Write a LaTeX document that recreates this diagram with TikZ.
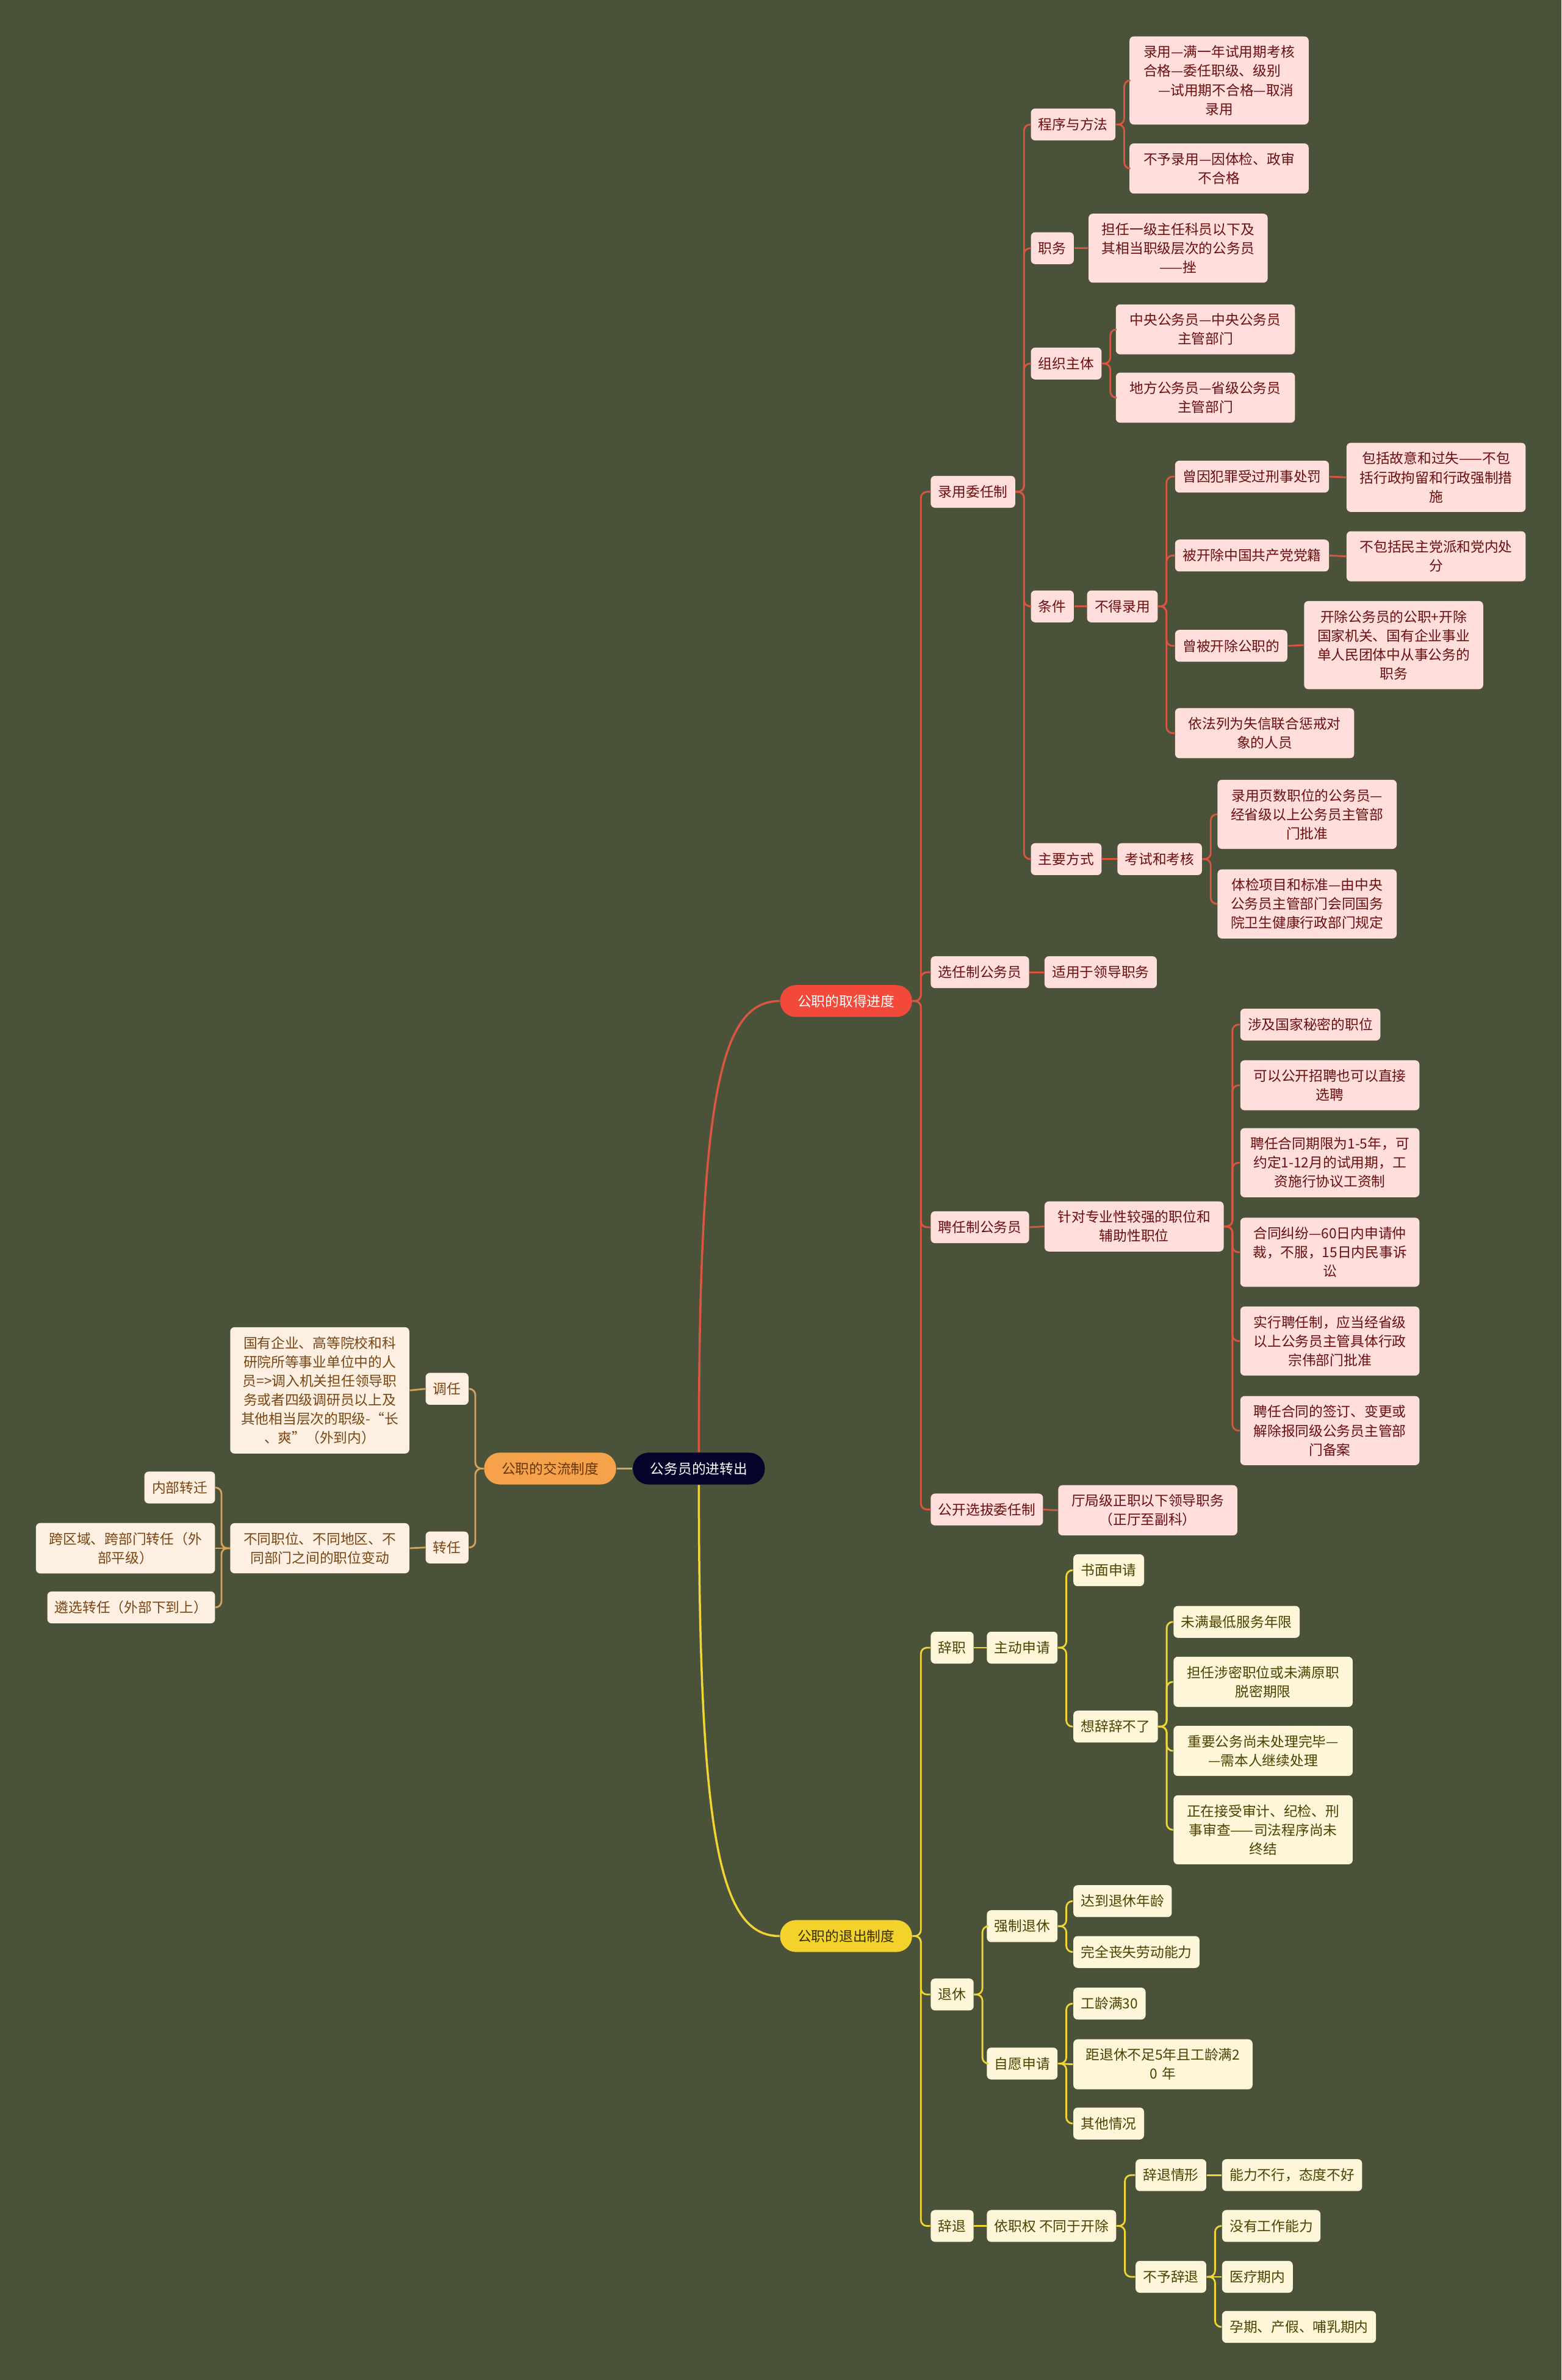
\documentclass[tikz,border=0pt]{standalone}
\usepackage{fontspec}
\usepackage{xcolor}
\setmainfont{Noto Sans CJK SC}
\definecolor{Board}{HTML}{4A5339}
\definecolor{Night}{HTML}{04042B}
\definecolor{RedMain}{HTML}{F2493A}
\definecolor{RedLine}{HTML}{DC5541}
\definecolor{RedFill}{HTML}{FFDEDC}
\definecolor{RedInk}{HTML}{6A0E0E}
\definecolor{OrgMain}{HTML}{F5A24B}
\definecolor{OrgLine}{HTML}{D9A457}
\definecolor{OrgFill}{HTML}{FDF0E2}
\definecolor{OrgInk}{HTML}{7A4512}
\definecolor{YelMain}{HTML}{F3D22B}
\definecolor{YelLine}{HTML}{F0D534}
\definecolor{YelFill}{HTML}{FDF6D8}
\definecolor{YelInk}{HTML}{4D4100}

\begin{document}
\begin{tikzpicture}[x=0.025cm,y=-0.025cm,
  txt/.style={font=\fontsize{6.5}{8.9}\selectfont},
  box/.style={txt,rounded corners=2pt,inner xsep=0.125cm,inner ysep=0.15cm,minimum height=0.525cm,align=center},
  wide/.style={text width=2.7cm},
  rbox/.style={box,fill=RedFill,text=RedInk},
  obox/.style={box,fill=OrgFill,text=OrgInk},
  ybox/.style={box,fill=YelFill,text=YelInk},
  pill/.style={txt,rounded corners=0.26cm,minimum width=2.175cm,minimum height=0.525cm,inner sep=0pt},
  rline/.style={RedLine,line width=0.8pt,rounded corners=0.1cm},
  oline/.style={OrgLine,line width=0.8pt,rounded corners=0.1cm},
  yline/.style={YelLine,line width=0.8pt,rounded corners=0.1cm},
  elbow/.style={to path={-- ++(5.5,0) |- (\tikztotarget)}},
  elbowl/.style={to path={-- ++(-5.5,0) |- (\tikztotarget)}}]
\useasboundingbox (0,0) rectangle (1029,1568);
\fill[Board] (0,0) rectangle (1029,1568);

% centre and first level
\node[pill,fill=Night,text=white] (root) at (460.5,967.5) {公务员的进转出};
\node[pill,fill=RedMain,text=white] (qude) at (557.5,659.5) {公职的取得进度};
\node[pill,fill=OrgMain,text=OrgInk!80!black] (jiaoliu) at (362.5,967.5) {公职的交流制度};
\node[pill,fill=YelMain,text=YelInk!70!black] (tuichu) at (557.5,1275.5) {公职的退出制度};

\draw[rline,line width=1pt] (root.north) .. controls (460.5,720) and (475,659.5) .. (qude.west);
\draw[oline,line width=1pt] (root.west) -- (jiaoliu.east);
\draw[yline,line width=1pt] (root.south) .. controls (460.5,1215) and (475,1275.5) .. (tuichu.west);

% exchange branch (left)
\node[obox,anchor=east] (tiaoren) at (309,915) {调任};
\node[obox,anchor=east] (zhuanren) at (309,1019.5) {转任};
\node[obox,wide,anchor=east] (tiaorenT) at (270,916) {国有企业、高等院校和科\\研院所等事业单位中的人\\员=>调入机关担任领导职\\务或者四级调研员以上及\\其他相当层次的职级-“长\\、爽”（外到内）};
\node[obox,wide,anchor=east] (zhuanrenT) at (270,1020) {不同职位、不同地区、不\\同部门之间的职位变动};
\node[obox,anchor=east] (neibu) at (142,980) {内部转迁};
\node[obox,wide,anchor=east] (kuaqu) at (142,1020) {跨区域、跨部门转任（外\\部平级）};
\node[obox,anchor=east] (linxuan) at (142,1059) {遴选转任（外部下到上）};

\draw[oline] (jiaoliu.west) to[elbowl] (tiaoren.east);
\draw[oline] (jiaoliu.west) to[elbowl] (zhuanren.east);
\draw[oline] (tiaoren.west) -- (tiaorenT.east);
\draw[oline] (zhuanren.west) -- (zhuanrenT.east);
\draw[oline] (zhuanrenT.west) to[elbowl] (neibu.east);
\draw[oline] (zhuanrenT.west) -- (kuaqu.east);
\draw[oline] (zhuanrenT.west) to[elbowl] (linxuan.east);

% obtaining branch
\node[rbox,anchor=west] (luyong) at (613,324) {录用委任制};
\node[rbox,anchor=west] (xuanren) at (613,640.5) {选任制公务员};
\node[rbox,anchor=west] (pinren) at (613,808.5) {聘任制公务员};
\node[rbox,anchor=west] (gongkai) at (613,994.5) {公开选拔委任制};

\node[rbox,anchor=west] (chengxu) at (679,82) {程序与方法};
\node[rbox,anchor=west] (zhiwu) at (679,163.5) {职务};
\node[rbox,anchor=west] (zuzhi) at (679,239.5) {组织主体};
\node[rbox,anchor=west] (tiaojian) at (679,399.5) {条件};
\node[rbox,anchor=west] (fangshi) at (679,566) {主要方式};

\node[rbox,wide,anchor=west] (cx1) at (744,53) {录用—满一年试用期考核\\合格—委任职级、级别\kern1em\\\leavevmode\kern1em—试用期不合格—取消\\录用};
\node[rbox,wide,anchor=west] (cx2) at (744,111) {不予录用—因体检、政审\\不合格};
\node[rbox,wide,anchor=west] (zw1) at (717,163.5) {担任一级主任科员以下及\\其相当职级层次的公务员\\——挫};
\node[rbox,wide,anchor=west] (zz1) at (735,217) {中央公务员—中央公务员\\主管部门};
\node[rbox,wide,anchor=west] (zz2) at (735,262) {地方公务员—省级公务员\\主管部门};

\node[rbox,anchor=west] (bude) at (716,399.5) {不得录用};
\node[rbox,anchor=west] (tj1) at (774,314) {曾因犯罪受过刑事处罚};
\node[rbox,wide,anchor=west] (tj1a) at (887,314.5) {包括故意和过失——不包\\括行政拘留和行政强制措\\施};
\node[rbox,anchor=west] (tj2) at (774,366) {被开除中国共产党党籍};
\node[rbox,wide,anchor=west] (tj2a) at (887,366.5) {不包括民主党派和党内处\\分};
\node[rbox,anchor=west] (tj3) at (774,425.5) {曾被开除公职的};
\node[rbox,wide,anchor=west] (tj3a) at (859,425) {开除公务员的公职+开除\\国家机关、国有企业事业\\单人民团体中从事公务的\\职务};
\node[rbox,wide,anchor=west] (tj4) at (774,483) {依法列为失信联合惩戒对\\象的人员};

\node[rbox,anchor=west] (kaoshi) at (736,566) {考试和考核};
\node[rbox,wide,anchor=west] (ks1) at (802,536.5) {录用页数职位的公务员—\\经省级以上公务员主管部\\门批准};
\node[rbox,wide,anchor=west] (ks2) at (802,595.5) {体检项目和标准—由中央\\公务员主管部门会同国务\\院卫生健康行政部门规定};

\node[rbox,anchor=west] (xr1) at (688,640.5) {适用于领导职务};
\node[rbox,wide,anchor=west] (pr1) at (688,808) {针对专业性较强的职位和\\辅助性职位};
\node[rbox,anchor=west] (pr1a) at (817,675) {涉及国家秘密的职位};
\node[rbox,wide,anchor=west] (pr1b) at (817,715) {可以公开招聘也可以直接\\选聘};
\node[rbox,wide,anchor=west] (pr1c) at (817,766) {聘任合同期限为1-5年，可\\约定1-12月的试用期，工\\资施行协议工资制};
\node[rbox,wide,anchor=west] (pr1d) at (817,825) {合同纠纷—60日内申请仲\\裁，不服，15日内民事诉\\讼};
\node[rbox,wide,anchor=west] (pr1e) at (817,883.5) {实行聘任制，应当经省级\\以上公务员主管具体行政\\宗伟部门批准};
\node[rbox,wide,anchor=west] (pr1f) at (817,942.5) {聘任合同的签订、变更或\\解除报同级公务员主管部\\门备案};
\node[rbox,wide,anchor=west] (gk1) at (697,995) {厅局级正职以下领导职务\\（正厅至副科）};

\draw[rline] (qude.east) to[elbow] (luyong.west);
\draw[rline] (qude.east) to[elbow] (xuanren.west);
\draw[rline] (qude.east) to[elbow] (pinren.west);
\draw[rline] (qude.east) to[elbow] (gongkai.west);
\draw[rline] (luyong.east) to[elbow] (chengxu.west);
\draw[rline] (luyong.east) to[elbow] (zhiwu.west);
\draw[rline] (luyong.east) to[elbow] (zuzhi.west);
\draw[rline] (luyong.east) to[elbow] (tiaojian.west);
\draw[rline] (luyong.east) to[elbow] (fangshi.west);
\draw[rline] (chengxu.east) to[elbow] (cx1.west);
\draw[rline] (chengxu.east) to[elbow] (cx2.west);
\draw[rline] (zhiwu.east) -- (zw1.west);
\draw[rline] (zuzhi.east) to[elbow] (zz1.west);
\draw[rline] (zuzhi.east) to[elbow] (zz2.west);
\draw[rline] (tiaojian.east) -- (bude.west);
\draw[rline] (bude.east) to[elbow] (tj1.west);
\draw[rline] (bude.east) to[elbow] (tj2.west);
\draw[rline] (bude.east) to[elbow] (tj3.west);
\draw[rline] (bude.east) to[elbow] (tj4.west);
\draw[rline] (tj1.east) -- (tj1a.west);
\draw[rline] (tj2.east) -- (tj2a.west);
\draw[rline] (tj3.east) -- (tj3a.west);
\draw[rline] (fangshi.east) -- (kaoshi.west);
\draw[rline] (kaoshi.east) to[elbow] (ks1.west);
\draw[rline] (kaoshi.east) to[elbow] (ks2.west);
\draw[rline] (xuanren.east) -- (xr1.west);
\draw[rline] (pinren.east) -- (pr1.west);
\foreach \k in {pr1a,pr1b,pr1c,pr1d,pr1e,pr1f}
  \draw[rline] (pr1.east) to[elbow] (\k.west);
\draw[rline] (gongkai.east) -- (gk1.west);

% leaving branch
\node[ybox,anchor=west] (cizhi) at (613,1085.5) {辞职};
\node[ybox,anchor=west] (tuixiu) at (613,1314) {退休};
\node[ybox,anchor=west] (citui) at (613,1466.5) {辞退};

\node[ybox,anchor=west] (zhudong) at (650,1085.5) {主动申请};
\node[ybox,anchor=west] (shumian) at (707,1034.5) {书面申请};
\node[ybox,anchor=west] (xiangci) at (707,1137.5) {想辞辞不了};
\node[ybox,anchor=west] (xc1) at (773,1068.5) {未满最低服务年限};
\node[ybox,wide,anchor=west] (xc2) at (773,1108) {担任涉密职位或未满原职\\脱密期限};
\node[ybox,wide,anchor=west] (xc3) at (773,1153.5) {重要公务尚未处理完毕—\\—需本人继续处理};
\node[ybox,wide,anchor=west] (xc4) at (773,1205.5) {正在接受审计、纪检、刑\\事审查——司法程序尚未\\终结};

\node[ybox,anchor=west] (qiangzhi) at (650,1269) {强制退休};
\node[ybox,anchor=west] (ziyuan) at (650,1359.5) {自愿申请};
\node[ybox,anchor=west] (qz1) at (707,1252.5) {达到退休年龄};
\node[ybox,anchor=west] (qz2) at (707,1286) {完全丧失劳动能力};
\node[ybox,anchor=west] (zy1) at (707,1320) {工龄满30};
\node[ybox,wide,anchor=west] (zy2) at (707,1360) {距退休不足5年且工龄满2\\0 年};
\node[ybox,anchor=west] (zy3) at (707,1399) {其他情况};

\node[ybox,anchor=west] (yizhi) at (650,1466.5) {依职权 不同于开除};
\node[ybox,anchor=west] (ctqx) at (748,1433) {辞退情形};
\node[ybox,anchor=west] (buyu) at (748,1500) {不予辞退};
\node[ybox,anchor=west] (ct1) at (805,1433) {能力不行，态度不好};
\node[ybox,anchor=west] (by1) at (805,1466.5) {没有工作能力};
\node[ybox,anchor=west] (by2) at (805,1500) {医疗期内};
\node[ybox,anchor=west] (by3) at (805,1533) {孕期、产假、哺乳期内};

\draw[yline] (tuichu.east) to[elbow] (cizhi.west);
\draw[yline] (tuichu.east) to[elbow] (tuixiu.west);
\draw[yline] (tuichu.east) to[elbow] (citui.west);
\draw[yline] (cizhi.east) -- (zhudong.west);
\draw[yline] (zhudong.east) to[elbow] (shumian.west);
\draw[yline] (zhudong.east) to[elbow] (xiangci.west);
\foreach \k in {xc1,xc2,xc3,xc4}
  \draw[yline] (xiangci.east) to[elbow] (\k.west);
\draw[yline] (tuixiu.east) to[elbow] (qiangzhi.west);
\draw[yline] (tuixiu.east) to[elbow] (ziyuan.west);
\draw[yline] (qiangzhi.east) to[elbow] (qz1.west);
\draw[yline] (qiangzhi.east) to[elbow] (qz2.west);
\draw[yline] (ziyuan.east) to[elbow] (zy1.west);
\draw[yline] (ziyuan.east) -- (zy2.west);
\draw[yline] (ziyuan.east) to[elbow] (zy3.west);
\draw[yline] (citui.east) -- (yizhi.west);
\draw[yline] (yizhi.east) to[elbow] (ctqx.west);
\draw[yline] (yizhi.east) to[elbow] (buyu.west);
\draw[yline] (ctqx.east) -- (ct1.west);
\draw[yline] (buyu.east) to[elbow] (by1.west);
\draw[yline] (buyu.east) -- (by2.west);
\draw[yline] (buyu.east) to[elbow] (by3.west);
\end{tikzpicture}
\end{document}
